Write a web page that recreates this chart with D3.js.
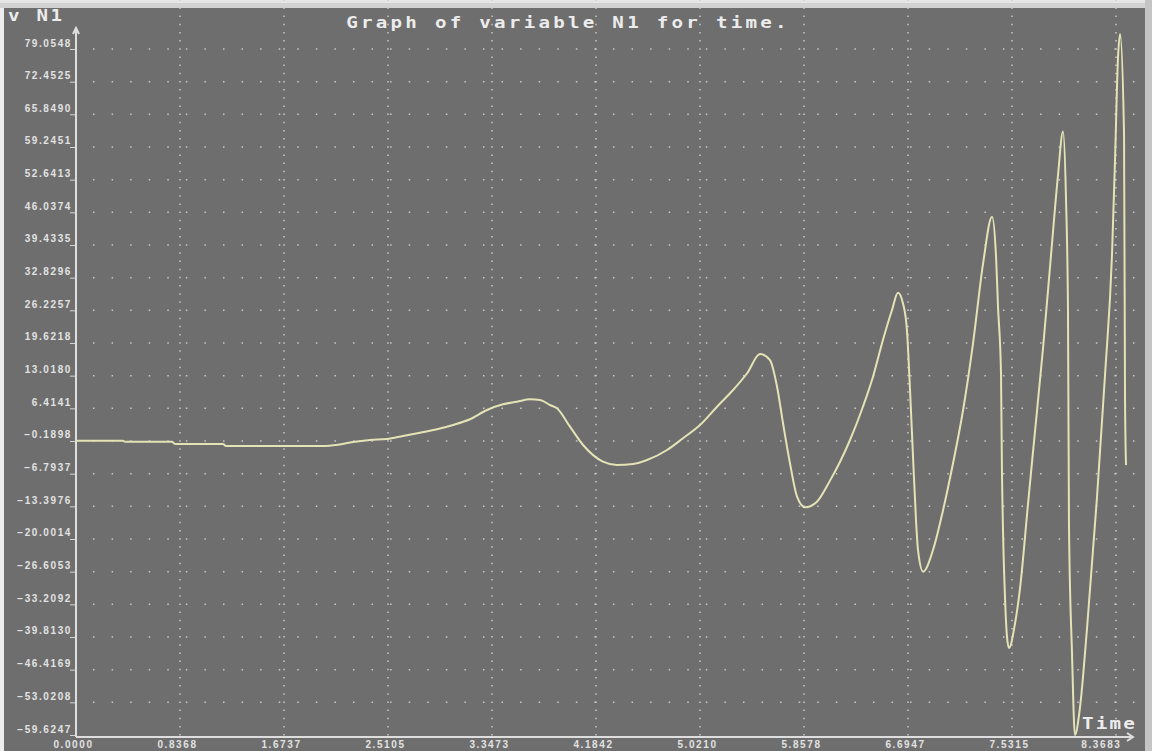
<!DOCTYPE html>
<html>
<head>
<meta charset="utf-8">
<script src="https://cdn.jsdelivr.net/npm/d3@7"></script>
<style>
  body { margin: 0; background: #6e6e6e; overflow: hidden; }
  svg { display: block; }
  .tick text { font-family: "Liberation Sans", Arial, sans-serif; font-weight: bold; font-size: 10px; letter-spacing: 1.6px; fill: #e2e2e2; }
  .big { font-family: "DejaVu Sans Mono", monospace; font-weight: bold; font-size: 16px; fill: #ececec; }
</style>
</head>
<body>
<div id="chart"></div>
<script>
// valores
const xTickLabels = ["0.0000", "0.8368", "1.6737", "2.5105", "3.3473", "4.1842", "5.0210", "5.8578", "6.6947", "7.5315", "8.3683"];
const yTickLabels = ["79.0548", "72.4525", "65.8490", "59.2451", "52.6413", "46.0374", "39.4335", "32.8296", "26.2257", "19.6218", "13.0180",
  "6.4141", "-0.1898", "-6.7937", "-13.3976", "-20.0014", "-26.6053", "-33.2092", "-39.8130", "-46.4169", "-53.0208", "-59.6247"];

const timeVals = [0, 0.378, 0.394, 0.772, 0.797, 1.183, 1.207, 1.988, 2.108, 2.229,
  2.366, 2.502, 2.631, 2.768, 2.905, 3.034, 3.170, 3.307, 3.436, 3.549,
  3.653, 3.734, 3.814, 3.870, 3.975, 4.080, 4.240, 4.353, 4.482, 4.595,
  4.756, 4.884, 5.021, 5.158, 5.287, 5.400, 5.504, 5.584, 5.641, 5.689,
  5.745, 5.802, 5.866, 5.962, 6.067, 6.147, 6.228, 6.332, 6.413, 6.493,
  6.566, 6.614, 6.654, 6.686, 6.711, 6.735, 6.759, 6.775, 6.816, 6.896,
  6.977, 7.057, 7.138, 7.218, 7.299, 7.371, 7.403, 7.419, 7.443, 7.451,
  7.459, 7.475, 7.491, 7.507, 7.556, 7.596, 7.660, 7.700, 7.781, 7.853,
  7.901, 7.942, 7.966, 7.982, 7.990, 8.014, 8.038, 8.078, 8.135, 8.215,
  8.280, 8.336, 8.360, 8.384, 8.401, 8.433, 8.441, 8.449];

const n1Vals = [-0.13, -0.13, -0.33, -0.33, -0.80, -0.80, -1.20, -1.20, -0.94, -0.39,
  0.01, 0.21, 0.82, 1.49, 2.18, 3.04, 4.20, 6.08, 7.23, 7.75,
  8.24, 8.10, 7.09, 6.42, 2.70, -1.00, -4.37, -5.04, -4.84, -4.03,
  -2.01, 0.36, 3.04, 6.74, 10.12, 13.50, 17.40, 16.18, 10.79, 3.39,
  -4.70, -11.45, -13.59, -12.46, -8.20, -4.43, 0.01, 6.74, 12.81, 20.23,
  26.29, 29.79, 27.65, 22.25, 10.12, -3.36, -16.16, -22.22, -26.61, -22.22,
  -14.14, -4.70, 6.08, 19.56, 35.73, 45.15, 37.07, 26.96, 13.50, -7.41,
  -18.18, -31.67, -39.75, -42.03, -37.04, -30.00, -13.00, -2.50, 18.51, 39.63,
  53.38, 62.37, 48.73, 26.09, -17.37, -42.84, -59.62, -54.16, -38.09, -11.71,
  13.15, 37.41, 56.21, 77.03, 82.08, 61.87, 8.10, -5.04];

const width = 1152;
const height = 751;
const xTicks = xTickLabels.map(Number);
const yTicks = yTickLabels.map(Number);

const svg = d3.select("#chart").append("svg")
  .attr("width", width)
  .attr("height", height);

// fondo y bordes de la ventana
svg.append("rect").attr("width", width).attr("height", height).attr("fill", "#6e6e6e");
svg.append("rect").attr("width", 4).attr("height", height).attr("fill", "#ededed");
svg.append("rect").attr("width", width).attr("height", 8).attr("fill", "#d2d2d2");
svg.append("rect").attr("width", width).attr("height", 3).attr("fill", "#e6e6e6");
svg.append("rect").attr("x", 1145).attr("width", 7).attr("height", height).attr("fill", "#c4c4c4");

const x = d3.scaleLinear().domain([0, 8.3683]).range([76, 1116]);
const y = d3.scaleLinear().domain([-59.6247, 79.0548]).range([735, 49]);

// rejilla punteada
const rowStep = y(yTicks[1]) - y(yTicks[0]);
const colStep = x(xTicks[1]) - x(xTicks[0]);

svg.append("g").selectAll("line")
  .data(yTicks.slice(0, -1))
  .enter().append("line")
  .attr("x1", x(0) + 17).attr("x2", 1140)
  .attr("y1", d => y(d)).attr("y2", d => y(d))
  .attr("stroke", "#c9c9c9")
  .attr("stroke-width", 1.5)
  .attr("stroke-dasharray", `1.5 ${colStep * 5 / 28 - 1.5}`);

svg.append("g").selectAll("line")
  .data(xTicks.slice(1))
  .enter().append("line")
  .attr("x1", d => x(d)).attr("x2", d => x(d))
  .attr("y1", y(yTicks[0]) - Math.abs(rowStep) * 3 - 0.75).attr("y2", 737)
  .attr("stroke", "#c9c9c9")
  .attr("stroke-width", 1.5)
  .attr("stroke-dasharray", `1.5 ${Math.abs(rowStep) / 4 - 1.5}`);

// ejes
const yAxis = svg.append("g")
  .attr("transform", `translate(${x(0)},0)`)
  .call(d3.axisLeft(y).tickValues(yTicks).tickSize(5).tickFormat(d3.format(".4f")));
yAxis.select(".domain").remove();
yAxis.selectAll(".tick line").attr("stroke", "#d6d6d6").attr("transform", "translate(-1,0)");
yAxis.selectAll(".tick text").attr("x", -4).attr("dy", -3);

const xAxis = svg.append("g")
  .attr("transform", "translate(0,737)")
  .call(d3.axisBottom(x).tickValues(xTicks).tickSize(0).tickFormat(d3.format(".4f")));
xAxis.select(".domain").remove();
xAxis.selectAll(".tick text").attr("y", 11).attr("dy", 0).attr("x", -3);
xAxis.selectAll(".tick text").filter((d, i) => i === xTicks.length - 1)
  .attr("text-anchor", "end").attr("x", 5);

svg.append("path")
  .attr("d", `M${x(0)},737 V28 M${x(0) - 3},34 L${x(0)},28 L${x(0) + 3},34`)
  .attr("fill", "none").attr("stroke", "#dedede").attr("stroke-width", 2);
svg.append("path")
  .attr("d", `M${x(0)},737 H1133 M1127,733 L1133,737 L1127,741`)
  .attr("fill", "none").attr("stroke", "#dedede").attr("stroke-width", 2);

// curva N1
const line = d3.line()
  .x((d, i) => x(timeVals[i]))
  .y(d => y(d))
  .curve(d3.curveMonotoneX);

svg.append("path")
  .datum(n1Vals)
  .attr("d", line)
  .attr("fill", "none")
  .attr("stroke", "#e3e3b6")
  .attr("stroke-width", 2)
  .attr("stroke-linejoin", "round");

// textos
svg.append("text")
  .attr("class", "big")
  .attr("transform", "translate(568,28) scale(1.2,1)")
  .attr("text-anchor", "middle")
  .style("letter-spacing", "2.7px")
  .text("Graph of variable N1 for time.");

svg.append("text")
  .attr("class", "big")
  .attr("transform", "translate(8,21) scale(1.2,1)")
  .style("letter-spacing", "2.2px")
  .text("v N1");

svg.append("text")
  .attr("class", "big")
  .attr("transform", "translate(1082,729) scale(1.2,1)")
  .style("letter-spacing", "1.8px")
  .text("Time");
</script>
</body>
</html>
